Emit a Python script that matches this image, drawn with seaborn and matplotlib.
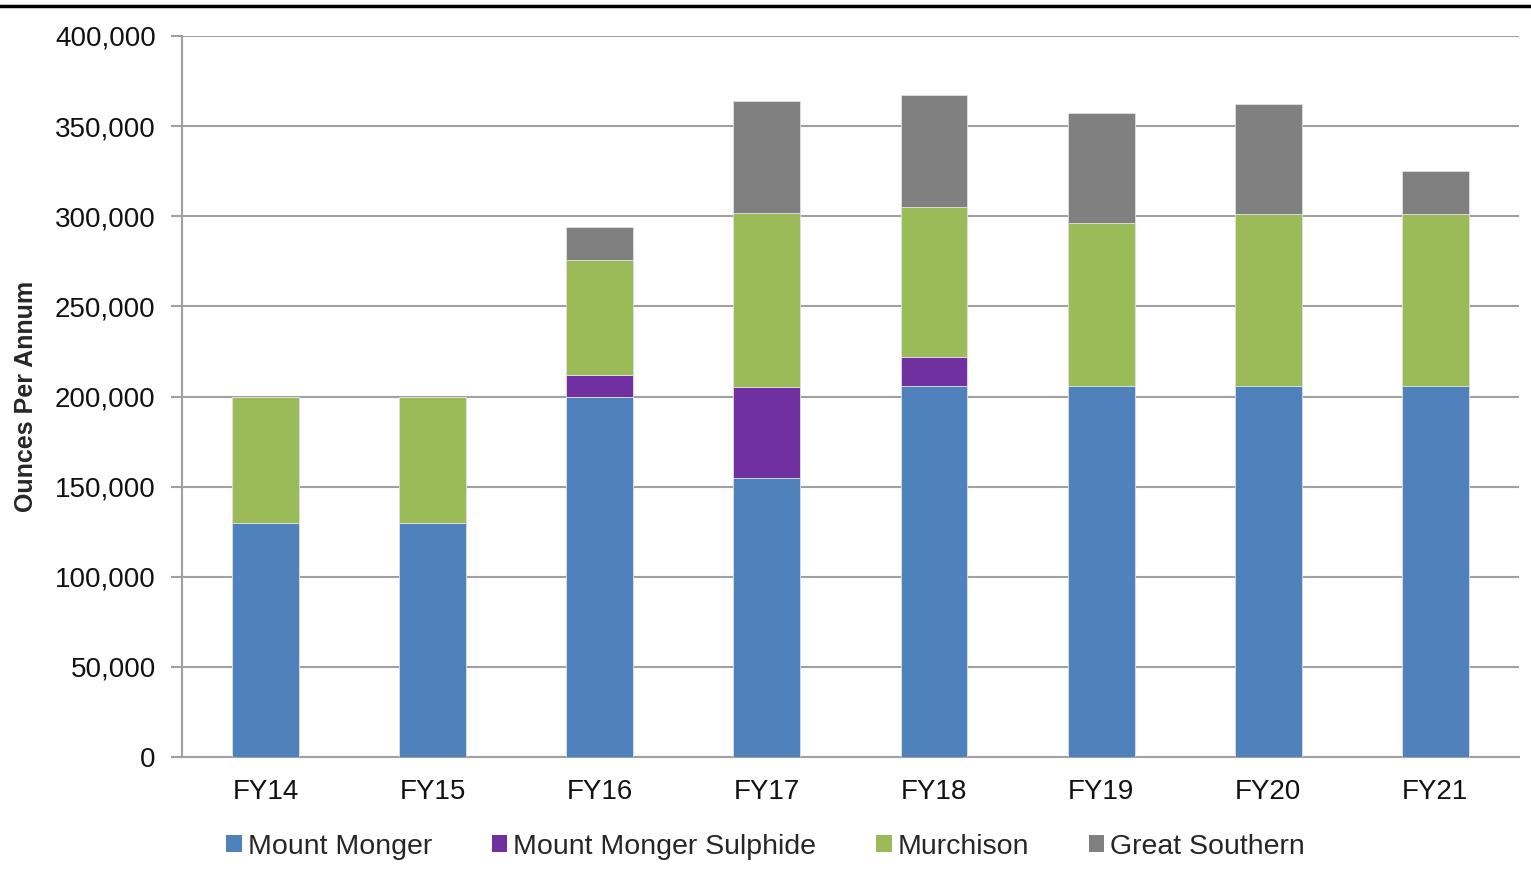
import numpy as np
import matplotlib
matplotlib.use("Agg")
import matplotlib.pyplot as plt
import seaborn as sns
from matplotlib.patches import Patch
from matplotlib.lines import Line2D

years = ["FY14", "FY15", "FY16", "FY17", "FY18", "FY19", "FY20", "FY21"]
mount_monger = [130000, 130000, 200000, 155000, 206000, 206000, 206000, 206000]
mm_sulphide = [0, 0, 12000, 50000, 16000, 0, 0, 0]
murchison = [70000, 70000, 64000, 97000, 83000, 90000, 95000, 95000]
great_southern = [0, 0, 18000, 62000, 62000, 61000, 61000, 24000]

series = ["Mount Monger", "Mount Monger Sulphide", "Murchison", "Great Southern"]
colors = ["#4F81BD", "#7030A0", "#9BBB59", "#808080"]

sns.set_style("white")
plt.rcParams["font.family"] = ["Liberation Sans", "DejaVu Sans"]

fig = plt.figure(figsize=(15.31, 8.82), dpi=100)
ax = fig.add_axes([0.1189, 0.1417, 0.8732, 0.8175])

bottom = np.zeros(len(years))
for name, vals, c in zip(series, [mount_monger, mm_sulphide, murchison, great_southern], colors):
    sns.barplot(x=years, y=vals, bottom=bottom, color=c, width=0.4, saturation=1,
                errorbar=None, ax=ax, edgecolor="#e0e0e0", linewidth=0.6, zorder=3)
    bottom = bottom + np.array(vals)

ax.set_xlim(-0.5, 7.5)
ax.set_ylim(0, 400000)
ax.set_yticks(np.arange(0, 400001, 50000))
ax.set_yticklabels([f"{v:,}" for v in range(0, 400001, 50000)])
ax.grid(axis="y", color="#a0a0a0", linewidth=1.5, zorder=0)
ax.set_axisbelow(True)

ax.set_xticks(range(len(years)))
ax.set_xticklabels(years)
ax.set_xticks(np.arange(-0.5, 8.0, 1), minor=True)
ax.tick_params(axis="x", which="major", length=0, pad=16, labelsize=20, colors="#111111")
ax.tick_params(axis="x", which="minor", length=8, width=1.5, color="#a0a0a0", direction="out")
ax.tick_params(axis="y", length=8, width=1.5, color="#a0a0a0", direction="out", pad=11,
               labelsize=20, labelcolor="#111111", left=True)

for s in ["top", "right"]:
    ax.spines[s].set_visible(False)
for s in ["left", "bottom"]:
    ax.spines[s].set_color("#a0a0a0")
    ax.spines[s].set_linewidth(1.5)

ax.set_xlabel("")
ax.set_ylabel("Ounces Per Annum", fontsize=18, fontweight="bold", labelpad=12)

handles = [Patch(facecolor=c, edgecolor="none") for c in colors]
fig.legend(handles, series, loc="center", bbox_to_anchor=(0.5, 0.040), ncol=4,
           frameon=False, fontsize=20.5, handlelength=0.55, handleheight=0.55,
           handletextpad=0.2, columnspacing=2.1)

fig.add_artist(Line2D([0, 1], [0.9935, 0.9935], color="black", linewidth=2.5,
                      transform=fig.transFigure))

fig.savefig("out.png", dpi=100)
